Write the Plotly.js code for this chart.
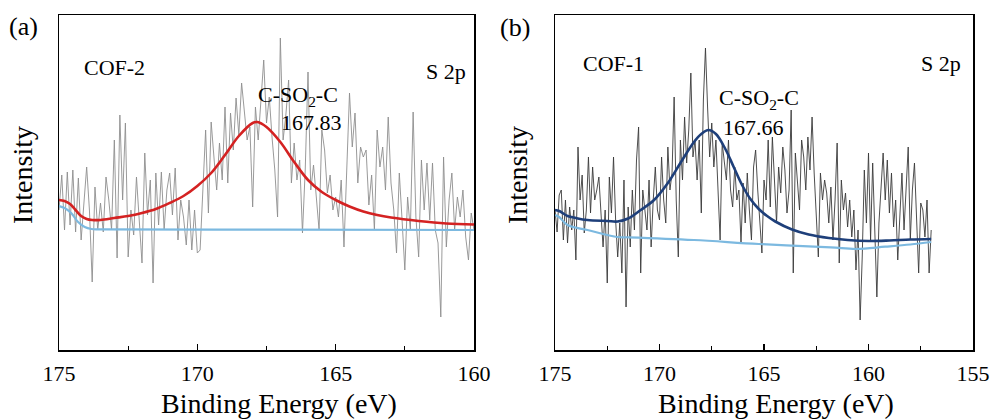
<!DOCTYPE html>
<html>
<head>
<meta charset="utf-8">
<script src="https://cdn.plot.ly/plotly-3.0.1.min.js"></script>
<style>html,body{margin:0;padding:0;background:#fff}#chart{width:992px;height:420px}</style>
</head>
<body>
<div id="chart"></div>
<script>
// ---------- Panel (a): COF-2, S 2p ----------
const startA = 175.0, stepA = 0.1;   // raw-data energy grid (eV)
const rawA = [140,175,120,178,125,180,118,172,110,150,183,140,68,163,120,147,118,173,150,120,
  210,92,235,150,227,93,140,115,173,130,87,197,135,170,67,177,125,178,120,160,
  177,135,182,110,150,133,105,150,100,140,97,100,165,220,137,228,193,160,207,170,
  243,167,237,200,252,215,267,237,210,223,143,243,210,250,290,227,253,213,180,133,
  312,210,235,270,167,207,170,190,117,180,278,160,185,153,120,220,200,157,175,140,
  153,133,170,103,187,257,203,237,167,203,193,200,145,175,120,220,183,203,160,233,
  167,140,97,177,130,80,153,120,238,133,93,190,140,187,130,187,120,107,33,193,
  103,150,177,120,153,133,160,113,90,137,120];
const fitA_E = [175,174.8,174.6,174.4,174.2,174.0,173.8,173.5,173.0,172.5,172.0,171.5,171.0,170.5,170.0,169.5,169.0,168.5,168.0,167.83,167.5,167.0,166.5,166.0,165.5,165.0,164.5,164.0,163.5,163.0,162.0,161.0,160.0];
const fitA   = [150,149,146,140,134,131,130,130,132,134,137,141,147,154,164,177,195,214,227,228,223,208,188,170,158,150,143.5,138.5,135,132.5,129,126.5,125.5];
const bgA_E  = [175,174.8,174.56,174.31,174.07,173.83,173.5,167,160];
const bgA    = [144,142,137,128,123,121,120.7,120.4,120];

// ---------- Panel (b): COF-1, S 2p ----------
const startB = 175.0, stepB = 0.1;
const rawB = [140,118,155,160,110,150,107,143,120,140,90,203,150,175,117,140,193,137,183,150,
  160,173,137,103,140,67,173,137,193,130,93,127,77,170,43,143,103,160,120,190,
  223,77,160,137,120,170,103,150,183,140,130,193,150,127,203,160,177,253,150,93,
  210,170,233,187,220,277,193,210,170,210,137,250,302,243,193,227,183,210,160,110,
  207,185,170,210,160,143,183,150,160,107,167,127,177,140,110,183,200,160,130,97,
  170,150,210,143,213,170,127,183,157,203,180,137,160,240,77,197,170,140,210,193,
  160,213,180,233,177,140,93,177,150,170,157,127,163,110,150,207,87,170,140,157,
  123,150,113,140,80,120,30,93,180,127,197,110,187,120,53,127,167,197,150,190,
  137,177,123,150,90,143,177,120,160,203,110,160,187,133,77,147,140,113,150,77,120];
const fitB_E = [175,174.8,174.4,174.0,173.45,172.5,172.0,171.5,170.9,170.26,169.6,169.0,168.35,168.0,167.66,167.3,166.85,166.45,166.05,165.65,165.25,164.85,164.46,163.66,162.86,161.9,161,160,159,158,157];
const fitB   = [140,139,134,132,130,129,128.5,131.5,140,150,167,187,208,216,220,216,201,183,165,151,141,134,128.5,120.5,115.5,112,110,109,109.5,110.5,111];
const bgB_E  = [175,174.8,174.4,173.45,172.0,171.5,168.35,165.25,161.8,160.6,159.2,158,157];
const bgB    = [135,133,125,120,113,112.7,110,106,102.7,101,103.3,105.5,108];

const tickVals = [175,170,165,160,155];
const tickText = ['175','170','165','160','155'];

function grid(start, step, n){ const a=[]; for(let i=0;i<n;i++) a.push(+(start - step*i).toFixed(3)); return a; }

const FONT = '"Liberation Serif","Times New Roman",Times,serif';

const traces = [
  {x: grid(startA, stepA, rawA.length), y: rawA, xaxis:'x', yaxis:'y', mode:'lines',
   line:{color:'#8e8e8e', width:0.9}, name:'COF-2 raw'},
  {x: bgA_E, y: bgA, xaxis:'x', yaxis:'y', mode:'lines', line:{color:'#7cb9e0', width:2.2, shape:'spline'}, name:'background'},
  {x: fitA_E, y: fitA, xaxis:'x', yaxis:'y', mode:'lines', line:{color:'#d42222', width:2.6, shape:'spline'}, name:'C-SO2-C fit'},
  {x: grid(startB, stepB, rawB.length), y: rawB, xaxis:'x2', yaxis:'y2', mode:'lines',
   line:{color:'#3a3a3a', width:0.9}, name:'COF-1 raw'},
  {x: bgB_E, y: bgB, xaxis:'x2', yaxis:'y2', mode:'lines', line:{color:'#7cb9e0', width:2.2, shape:'spline'}, name:'background'},
  {x: fitB_E, y: fitB, xaxis:'x2', yaxis:'y2', mode:'lines', line:{color:'#1e3f7a', width:2.6, shape:'spline'}, name:'C-SO2-C fit'}
];

function xAx(domain, range, anchor){
  return {domain: domain, range: range, anchor: anchor, showline:true, linecolor:'#000', linewidth:1.5, mirror:true,
    ticks:'inside', ticklen:6, tickwidth:1.3, tickcolor:'#000', tickvals: tickVals, ticktext: tickText,
    minor:{dtick:2.5, ticks:'inside', ticklen:4, tickwidth:1.2, tickcolor:'#000', showgrid:false},
    showgrid:false, zeroline:false, tickfont:{family:FONT, size:22, color:'#000'}, ticklabelstandoff:3};
}
function yAx(domain, anchor){
  return {domain: domain, range:[0,335], anchor: anchor, showline:true, linecolor:'#000', linewidth:1.5, mirror:true,
    ticks:'', showticklabels:false, showgrid:false, zeroline:false};
}

const ann = (x, y, text, size, xanchor, angle) => ({x, y, xref:'paper', yref:'paper', text, showarrow:false,
  font:{family:FONT, size:size, color:'#000'}, xanchor: xanchor || 'left', yanchor:'middle', textangle: angle || 0});

const layout = {
  width:992, height:420, margin:{l:0, r:0, t:0, b:0}, paper_bgcolor:'#fff', plot_bgcolor:'#fff', showlegend:false,
  xaxis: xAx([59/992, 474/992], [175,160], 'y'),
  yaxis: yAx([70/420, 405/420], 'x'),
  xaxis2: xAx([555/992, 973/992], [175,155], 'y2'),
  yaxis2: yAx([70/420, 405/420], 'x2'),
  annotations: [
    ann(279/992, 1-403/420, 'Binding Energy (eV)', 28, 'center'),
    ann(776/992, 1-403/420, 'Binding Energy (eV)', 28, 'center'),
    ann(22/992, 1-175/420, 'Intensity', 28, 'center', -90),
    ann(517/992, 1-175/420, 'Intensity', 28, 'center', -90),
    ann(7/992, 1-26/420, '(a)', 26),
    ann(498/992, 1-28/420, '(b)', 26),
    ann(82/992, 1-67/420, 'COF-2', 22),
    ann(468/992, 1-71/420, 'S 2p', 22, 'right'),
    ann(256/992, 1-96/420, 'C-SO<sub>2</sub>-C', 22),
    ann(279/992, 1-122/420, '167.83', 22),
    ann(581/992, 1-63/420, 'COF-1', 22),
    ann(963/992, 1-63/420, 'S 2p', 22, 'right'),
    ann(717/992, 1-99/420, 'C-SO<sub>2</sub>-C', 22),
    ann(721/992, 1-127/420, '167.66', 22)
  ]
};

Plotly.newPlot('chart', traces, layout, {staticPlot:true, displayModeBar:false});
</script>
</body>
</html>
